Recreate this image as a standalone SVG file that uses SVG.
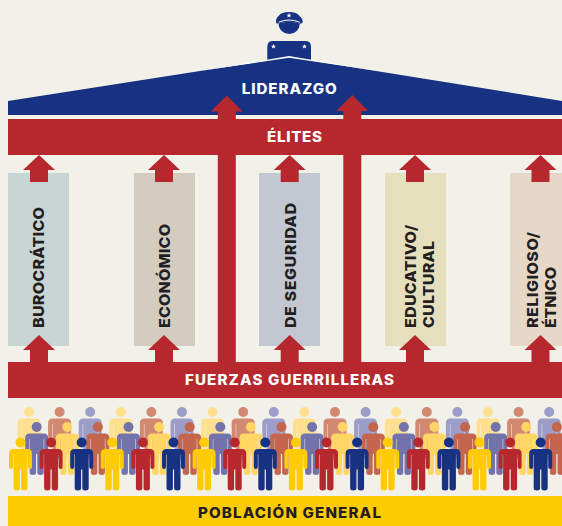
<svg xmlns="http://www.w3.org/2000/svg" width="562" height="526" viewBox="0 0 562 526">
<style>
.t{font-family:"Inter","Liberation Sans",sans-serif;font-weight:800}
.w{fill:#fff;font-size:14px}
.v{fill:#231f20;font-size:14.800px}
.red{fill:#b7282e}
.y1{fill:#ffcb05}.r1{fill:#b7282e}.b1{fill:#173282}
.y2{fill:#ffd566}.r2{fill:#c4664e}.b2{fill:#7273ab}
.y3{fill:#ffe08f}.r3{fill:#d38872}.b3{fill:#9c9dc8}
</style>
<defs>
<g id="p"><circle cx="0" cy="0" r="5"/><path d="M-7 6.500H7Q11.500 6.500 11.500 11V24.500Q11.500 26.500 9.500 26.500Q7.500 26.500 7.500 24.500V12H7V45.500Q7 48 3.800 48Q.6 48 .6 45.500V27H-.6V45.500Q-.6 48-3.800 48Q-7 48-7 45.500V12H-7.500V24.500Q-7.500 26.500-9.500 26.500Q-11.500 26.500-11.500 24.500V11Q-11.500 6.500-7 6.500Z"/></g>
<polygon id="sa" points="0,0 16,15 9,15 9,27 -9,27 -9,15 -16,15"/>
<polygon id="ta" points="0,0 16,16 9,16 9,267 -9,267 -9,16 -16,16"/>
<polygon id="star" points="0,-2.600 .7,-.8 2.500,-.8 1.100,.3 1.600,2.100 0,1.100 -1.600,2.100 -1.100,.3 -2.500,-.8 -.7,-.8"/>
</defs>
<rect width="562" height="526" fill="#f2f1e9"/>
<g id="poblacion">
<g class="y3"><use href="#p" x="29" y="412"/><use href="#p" x="120.800" y="412"/><use href="#p" x="212.600" y="412"/><use href="#p" x="304.400" y="412"/><use href="#p" x="396.200" y="412"/><use href="#p" x="488" y="412"/></g>
<g class="r3"><use href="#p" x="59.600" y="412"/><use href="#p" x="151.400" y="412"/><use href="#p" x="243.200" y="412"/><use href="#p" x="335" y="412"/><use href="#p" x="426.800" y="412"/><use href="#p" x="518.600" y="412"/></g>
<g class="b3"><use href="#p" x="90.200" y="412"/><use href="#p" x="182" y="412"/><use href="#p" x="273.800" y="412"/><use href="#p" x="365.600" y="412"/><use href="#p" x="457.400" y="412"/><use href="#p" x="549.200" y="412"/></g>
<g class="b2"><use href="#p" x="36.700" y="427"/><use href="#p" x="128.500" y="427"/><use href="#p" x="220.300" y="427"/><use href="#p" x="312.100" y="427"/><use href="#p" x="403.900" y="427"/><use href="#p" x="495.700" y="427"/></g>
<g class="y2"><use href="#p" x="67.300" y="427"/><use href="#p" x="159.100" y="427"/><use href="#p" x="250.900" y="427"/><use href="#p" x="342.700" y="427"/><use href="#p" x="434.500" y="427"/><use href="#p" x="526.300" y="427"/></g>
<g class="r2"><use href="#p" x="97.900" y="427"/><use href="#p" x="189.700" y="427"/><use href="#p" x="281.500" y="427"/><use href="#p" x="373.300" y="427"/><use href="#p" x="465.100" y="427"/><use href="#p" x="556.900" y="427"/></g>
<g class="y1"><use href="#p" x="20.500" y="442.500"/><use href="#p" x="112.300" y="442.500"/><use href="#p" x="204.100" y="442.500"/><use href="#p" x="295.900" y="442.500"/><use href="#p" x="387.700" y="442.500"/><use href="#p" x="479.500" y="442.500"/></g>
<g class="r1"><use href="#p" x="51.100" y="442.500"/><use href="#p" x="142.900" y="442.500"/><use href="#p" x="234.700" y="442.500"/><use href="#p" x="326.500" y="442.500"/><use href="#p" x="418.300" y="442.500"/><use href="#p" x="510.100" y="442.500"/></g>
<g class="b1"><use href="#p" x="81.700" y="442.500"/><use href="#p" x="173.500" y="442.500"/><use href="#p" x="265.300" y="442.500"/><use href="#p" x="357.100" y="442.500"/><use href="#p" x="448.900" y="442.500"/><use href="#p" x="540.700" y="442.500"/></g>
<rect x="8" y="496" width="554" height="30" fill="#ffcb05"/>
<text class="t" transform="translate(198 518) scale(1.08 1)" fill="#231f20" font-size="14" textLength="169.400">POBLACIÓN GENERAL</text>
</g>
<g id="burocratico"><rect x="8" y="173" width="61" height="173" fill="#c9d5d4"/><text class="t v" transform="translate(44.300 328) rotate(-90) scale(1.08 1)" textLength="112">BUROCRÁTICO</text></g>
<g id="economico"><rect x="134" y="173" width="61" height="173" fill="#d3ccbf"/><text class="t v" transform="translate(170 328) rotate(-90) scale(1.08 1)" textLength="96.300">ECONÓMICO</text></g>
<g id="seguridad"><rect x="259" y="173" width="61" height="173" fill="#c2c7d2"/><text class="t v" transform="translate(295.700 328) rotate(-90) scale(1.08 1)" textLength="115.700">DE SEGURIDAD</text></g>
<g id="educativo"><rect x="385" y="173" width="61" height="173" fill="#e6dfbd"/><text class="t v" transform="translate(416 328) rotate(-90) scale(1.08 1)" textLength="95.400">EDUCATIVO/</text><text class="t v" transform="translate(433.500 328) rotate(-90) scale(1.08 1)" textLength="80.600">CULTURAL</text></g>
<g id="religioso"><rect x="510" y="173" width="52" height="173" fill="#e6d7c6"/><text class="t v" transform="translate(538 328) rotate(-90) scale(1.08 1)" textLength="88.900">RELIGIOSO/</text><text class="t v" transform="translate(555.700 328) rotate(-90) scale(1.08 1)" textLength="56.500">ÉTNICO</text></g>
<g id="liderazgo">
<path d="M289 12Q281 12 279 15.500Q275.500 18.500 276 22Q276 24 278.500 23.500Q289 20 299.500 23.500Q302.700 24 302.700 22Q302.800 18.500 299 15.500Q297 12 289 12Z" fill="#173282"/>
<path d="M278.700 22.200Q289 17.800 299.700 22.200" fill="none" stroke="#fff" stroke-width="1"/>
<path d="M278.600 23.500Q289 20 299.800 23.500A10.500 10.500 0 1 1 278.600 23.500Z" fill="#173282"/>
<path d="M272 41H306Q311 41 311 47V60H267.300V47Q267.300 41 272 41Z" fill="#173282"/>
<use href="#star" x="289" y="15.500" fill="#fff"/><use href="#star" x="273.500" y="46.500" fill="#fff"/><use href="#star" x="304.500" y="46.500" fill="#fff"/>
<polygon points="8,101 289,57 562,101 562,115 8,115" fill="#173282"/>
<polygon points="200,71 289,56 378,71 289,57.800" fill="#fff"/>
<text class="t w" transform="translate(241.700 94) scale(1.08 1)" textLength="88">LIDERAZGO</text>
</g>
<g id="elites"><rect x="8" y="119" width="554" height="36" class="red"/><text class="t w" transform="translate(267 142) scale(1.08 1)" textLength="50.900">ÉLITES</text></g>
<g id="fuerzas"><rect x="8" y="362" width="554" height="36" class="red"/><text class="t w" transform="translate(185 385) scale(1.08 1)" textLength="193.500">FUERZAS GUERRILLERAS</text></g>
<g id="connectors" class="red">
<use href="#sa" x="39" y="155"/><use href="#sa" x="164" y="155"/><use href="#sa" x="289.700" y="155"/><use href="#sa" x="415" y="155"/><use href="#sa" x="540.500" y="155"/>
<use href="#sa" x="39" y="335"/><use href="#sa" x="164" y="335"/><use href="#sa" x="289.700" y="335"/><use href="#sa" x="415" y="335"/><use href="#sa" x="540.500" y="335"/>
<use href="#ta" x="226.800" y="95.500"/><use href="#ta" x="352.300" y="95"/>
</g>
</svg>
